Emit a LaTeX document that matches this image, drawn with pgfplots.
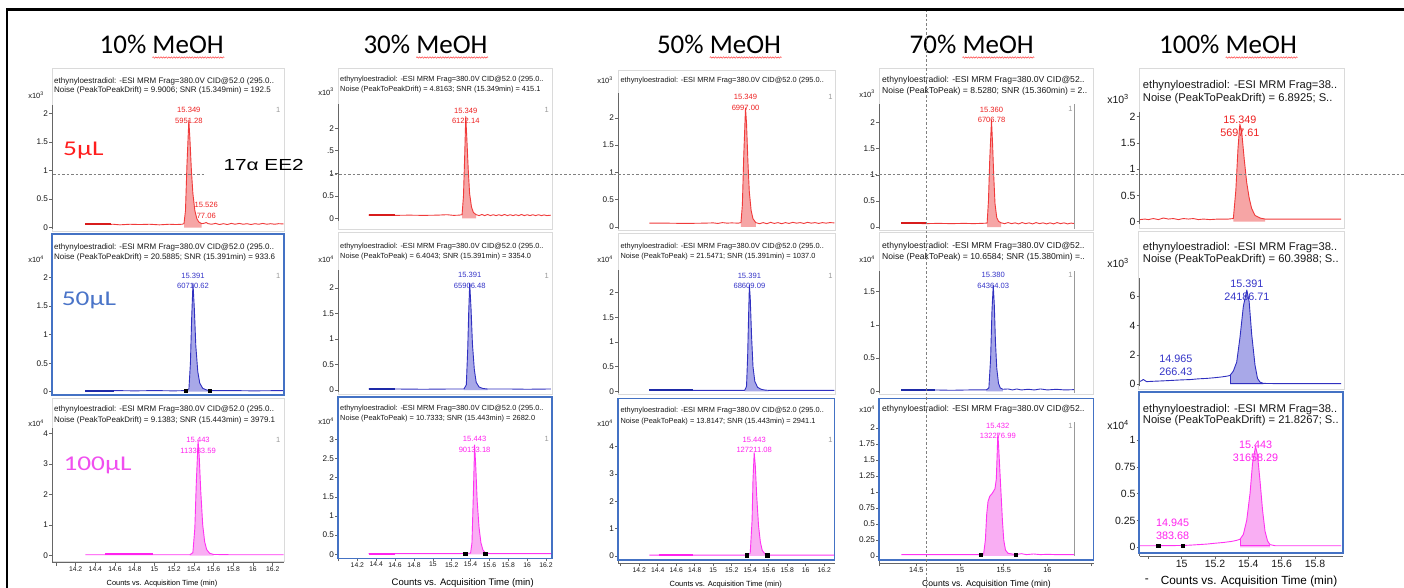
\documentclass[border=0pt]{standalone}
\usepackage{fontspec}
\usepackage{pgfplots}
\pgfplotsset{compat=1.18}
\usetikzlibrary{decorations.pathmorphing}
\setmainfont{Liberation Sans}
\newfontfamily\calib{Carlito}
\newcommand\fs[1]{\fontsize{#1}{#1}\selectfont}
\newcommand\fsl[2]{\fontsize{#1}{#2}\selectfont}
\newcommand\xten[1]{x10\textsuperscript{#1}}

\definecolor{tred}{HTML}{F03A3A}
\definecolor{fred}{HTML}{F6A5A5}
\definecolor{lred}{HTML}{EE2020}
\definecolor{dred}{HTML}{D81C1C}
\definecolor{tblue}{HTML}{3030C0}
\definecolor{fblue}{HTML}{A8A8E8}
\definecolor{lblue}{HTML}{3434C8}
\definecolor{dblue}{HTML}{1E2AA8}
\definecolor{tmag}{HTML}{FF33F2}
\definecolor{fmag}{HTML}{F9AEF3}
\definecolor{lmag}{HTML}{FF22EE}
\definecolor{selblue}{HTML}{4472C4}
\definecolor{frgray}{HTML}{DADADA}
\definecolor{vred}{HTML}{FF1E1E}
\definecolor{vblue}{HTML}{4A74C8}
\definecolor{vmag}{HTML}{F04FEF}

\pgfplotsset{
  chrom/.style={
    scale only axis, anchor=south west, clip=false,
    axis x line*=bottom, axis y line*=left,
    axis line style={draw=black!60, line width=0.6pt, -},
    every outer x axis line/.append style={-},
    every outer y axis line/.append style={-},
    tick style={draw=black!60, line width=0.6pt},
    major tick length=3pt, tick align=outside,
    /pgf/number format/assume math mode=true,
    ticklabel style={text=black!90, inner sep=0.8pt},
    yticklabel style={font=\fs{8.2}},
    xticklabel style={font=\fs{6.8}},
    scaled ticks=false,
  },
  toprow/.style={hide x axis},
  big/.style={yticklabel style={font=\fs{10.5}}, xticklabel style={font=\fs{10.5}}},
  trace/.style={line width=0.9pt, line join=round},
  band/.style={line width=1.9pt},
  integ/.style={only marks, mark=square*, mark size=1.7pt, black},
}
\tikzset{
  hd/.style={anchor=west, inner sep=0pt, text=black!90},
  pk/.style={inner sep=0pt, align=center, font=\fsl{7.6}{10.5}},
  pkb/.style={inner sep=0pt, align=center, font=\fsl{10.8}{13}},
  one/.style={inner sep=0pt, text=black!40, font=\fs{7.5}},
  exl/.style={anchor=east, inner sep=0pt, text=black!90, font=\fs{7.5}},
  ttl/.style={anchor=base, inner sep=0pt, font=\calib\fs{27}},
  wavy/.style={draw=red!75, line width=0.5pt, decorate,
    decoration={snake, amplitude=0.7pt, segment length=2.6pt}},
}

\begin{document}
\begin{tikzpicture}
\useasboundingbox (0pt,0pt) rectangle (1404pt,-588pt);
\fill[white] (0pt,0pt) rectangle (1404pt,-588pt);

% ---------- panel frames, titles, headers ----------
\begin{scope}[x=1pt,y=-1pt]
  \foreach \a/\b/\c/\d in {52/68/284/231, 52/398/284/561,
      338/68/552/229, 338/232/552/394,
      618/70/835/230, 618/233/835/394,
      879/68/1093.5/230, 879/232/1093.5/394,
      1139/68/1344/228, 1138/231/1344/389}
    \draw[frgray, line width=0.8pt] (\a,\b) rectangle (\c,\d);

  % column titles
  \node[ttl] at (161.7,54) {10\% MeOH};
  \node[ttl] at (425.5,54) {30\% MeOH};
  \node[ttl] at (719,54) {50\% MeOH};
  \node[ttl] at (971.7,54) {70\% MeOH};
  \node[ttl] at (1228,54) {100\% MeOH};
  \foreach \c/\w in {161.7/125.4, 425.5/125.4, 719/125.4, 971.7/125.4, 1228/139.2}
    \draw[wavy] ({\c+\w/2-72},57.5) -- ({\c+\w/2},57.5);

  % volume tags
  \node[anchor=base west, inner sep=0pt, text=vred] at (63,156)
    {\scalebox{1.3}[1]{\calib\fs{21}5µL}};
  \node[anchor=base west, inner sep=0pt, text=vblue] at (61.7,305)
    {\scalebox{1.3}[1]{\calib\fs{21}50µL}};
  \node[anchor=base west, inner sep=0pt, text=vmag] at (63.3,470)
    {\scalebox{1.3}[1]{\calib\fs{21}100µL}};
  \node[anchor=base west, inner sep=0pt] at (223.3,170.7)
    {\scalebox{1.3}[1]{\fs{16}17α EE2}};

  % headers, column 1
  \begin{scope}[every node/.style={hd, font=\fs{8}}]
    \node at (54,81.7) {ethynyloestradiol: -ESI MRM Frag=380.0V CID@52.0 (295.0..};
    \node at (54,90.7) {Noise (PeakToPeakDrift) = 9.9006; SNR (15.349min) = 192.5};
    \node at (54,247.3) {ethynyloestradiol: -ESI MRM Frag=380.0V CID@52.0 (295.0..};
    \node at (54,257.3) {Noise (PeakToPeakDrift) = 20.5885; SNR (15.391min) = 933.6};
    \node at (54,409.5) {ethynyloestradiol: -ESI MRM Frag=380.0V CID@52.0 (295.0..};
    \node at (54,420) {Noise (PeakToPeakDrift) = 9.1383; SNR (15.443min) = 3979.1};
  \end{scope}
  % headers, column 2
  \begin{scope}[every node/.style={hd, font=\fs{7.4}}]
    \node at (340,80) {ethynyloestradiol: -ESI MRM Frag=380.0V CID@52.0 (295.0..};
    \node at (340,90) {Noise (PeakToPeakDrift) = 4.8163; SNR (15.349min) = 415.1};
    \node at (340,246.7) {ethynyloestradiol: -ESI MRM Frag=380.0V CID@52.0 (295.0..};
    \node at (340,256.7) {Noise (PeakToPeak) = 6.4043; SNR (15.391min) = 3354.0};
    \node at (340,409) {ethynyloestradiol: -ESI MRM Frag=380.0V CID@52.0 (295.0..};
    \node at (340,419) {Noise (PeakToPeak) = 10.7333; SNR (15.443min) = 2682.0};
  \end{scope}
  % headers, column 3
  \begin{scope}[every node/.style={hd, font=\fs{7.4}}]
    \node at (620.3,80.7) {ethynyloestradiol: -ESI MRM Frag=380.0V CID@52.0 (295.0..};
    \node at (620.3,247) {ethynyloestradiol: -ESI MRM Frag=380.0V CID@52.0 (295.0..};
    \node at (620.3,257) {Noise (PeakToPeak) = 21.5471; SNR (15.391min) = 1037.0};
    \node at (620.3,411) {ethynyloestradiol: -ESI MRM Frag=380.0V CID@52.0 (295.0..};
    \node at (620.3,421.6) {Noise (PeakToPeak) = 13.8147; SNR (15.443min) = 2941.1};
  \end{scope}
  % headers, column 4
  \begin{scope}[every node/.style={hd, font=\fs{8.6}}]
    \node at (882,80.7) {ethynyloestradiol: -ESI MRM Frag=380.0V CID@52..};
    \node at (882,91) {Noise (PeakToPeak) = 8.5280; SNR (15.360min) = 2..};
    \node at (882,246) {ethynyloestradiol: -ESI MRM Frag=380.0V CID@52..};
    \node at (882,257) {Noise (PeakToPeak) = 10.6584; SNR (15.380min) =..};
    \node at (882,409.5) {ethynyloestradiol: -ESI MRM Frag=380.0V CID@52..};
  \end{scope}
  % headers, column 5
  \begin{scope}[every node/.style={hd, font=\fs{11.2}}]
    \node at (1142.7,86) {ethynyloestradiol: -ESI MRM Frag=38..};
    \node at (1142.7,98.3) {Noise (PeakToPeakDrift) = 6.8925; S..};
    \node at (1142.7,247.7) {ethynyloestradiol: -ESI MRM Frag=38..};
    \node at (1142.7,259.3) {Noise (PeakToPeakDrift) = 60.3988; S..};
    \node at (1142.7,409.3) {ethynyloestradiol: -ESI MRM Frag=38..};
    \node at (1142.7,421) {Noise (PeakToPeakDrift) = 21.8267; S..};
  \end{scope}

  % scale multipliers
  \node[exl] at (44,95) {\xten{3}};
  \node[exl] at (44,259.3) {\xten{4}};
  \node[exl] at (44,423.3) {\xten{4}};
  \node[exl] at (334,91.7) {\xten{3}};
  \node[exl] at (334,259) {\xten{4}};
  \node[exl] at (334,421.7) {\xten{4}};
  \node[exl] at (613,80.5) {\xten{3}};
  \node[exl] at (613,259) {\xten{4}};
  \node[exl] at (613,423) {\xten{4}};
  \node[exl] at (875,93.7) {\xten{3}};
  \node[exl] at (875,259) {\xten{4}};
  \node[exl] at (875,409.5) {\xten{4}};
  \node[exl, font=\fs{10.5}] at (1129,99) {\xten{3}};
  \node[exl, font=\fs{10.5}] at (1129,262.7) {\xten{3}};
  \node[exl, font=\fs{10.5}] at (1129,425) {\xten{4}};

  % trace numbers
  \foreach \x/\y in {278.3/110, 278.3/275.7, 278.3/440,
      546.7/110, 546.7/275.7, 546.7/439.3,
      830.4/97.2, 830.4/275.9, 830.4/439.8,
      1070.4/109.2, 1070.4/275.2, 1070.4/426}
    \node[one] at (\x,\y) {1};

  % x-axis titles
  \node[inner sep=0pt, font=\fs{7.4}] at (162,583.3) {Counts vs. Acquisition Time (min)};
  \node[inner sep=0pt, font=\fs{9.5}] at (462.7,582.7) {Counts vs. Acquisition Time (min)};
  \node[inner sep=0pt, font=\fs{7.5}] at (725.7,584.5) {Counts vs. Acquisition Time (min)};
  \node[inner sep=0pt, font=\fs{8.6}] at (986.5,584.5) {Counts vs. Acquisition Time (min)};
  \node[inner sep=0pt, font=\fs{11.8}] at (1249,581) {Counts vs. Acquisition Time (min)};
  \node[inner sep=0pt, font=\fs{11.8}] at (1146.7,581) {-};
\end{scope}

% ================= 10% MeOH =================
\begin{axis}[chrom, toprow, at={(52pt,-229pt)}, width=231.5pt, height=124pt,
  xmin=13.96, xmax=16.31, ymin=-0.023, ymax=2.145, ytick={0,0.5,1,1.5,2}]
  \addplot[fill=fred, draw=none] coordinates {(15.30,0.07) (15.315,0.3) (15.33,1.1) (15.349,1.88) (15.36,1.55) (15.375,1.0) (15.39,0.6) (15.41,0.3) (15.43,0.16) (15.45,0.1) (15.48,0.07)} \closedcycle;
  \addplot[trace, tred] coordinates {(14.30,0.06) (14.40,0.06) (14.50,0.055) (14.58,0.06) (14.65,0.05) (14.75,0.06) (14.85,0.055) (14.95,0.06) (15.05,0.05) (15.15,0.06) (15.22,0.055) (15.28,0.06) (15.30,0.07) (15.315,0.3) (15.33,1.1) (15.349,1.88) (15.36,1.55) (15.375,1.0) (15.39,0.6) (15.41,0.3) (15.43,0.16) (15.45,0.1) (15.48,0.07) (15.51,0.08) (15.526,0.09) (15.545,0.07) (15.58,0.06) (15.62,0.075) (15.66,0.055) (15.70,0.07) (15.74,0.055) (15.78,0.075) (15.82,0.06) (15.86,0.075) (15.90,0.06) (15.94,0.07) (15.98,0.055) (16.02,0.07) (16.06,0.06) (16.10,0.075) (16.14,0.06) (16.18,0.07) (16.22,0.06) (16.26,0.07) (16.31,0.065)};
  \addplot[band, dred] coordinates {(14.30,0.06) (14.56,0.06)};
  \node[pk, text=lred] at (axis cs:15.349,1.96) {15.349\\5951.28};
  \node[pk, text=lred] at (axis cs:15.526,0.30) {15.526\\77.06};
\end{axis}

\begin{axis}[chrom, toprow, at={(52pt,-394pt)}, width=231.5pt, height=126pt,
  xmin=13.96, xmax=16.31, ymin=-0.04, ymax=2.17, ytick={0,0.5,1,1.5,2}]
  \addplot[fill=fblue, draw=none] coordinates {(15.32,0.02) (15.35,0.05) (15.365,0.5) (15.378,1.3) (15.391,1.9) (15.405,1.45) (15.42,0.8) (15.44,0.35) (15.46,0.15) (15.49,0.06) (15.53,0.03) (15.56,0.02)} \closedcycle;
  \addplot[trace, tblue] coordinates {(14.30,0.02) (14.60,0.02) (14.80,0.015) (15.00,0.02) (15.20,0.015) (15.32,0.02) (15.35,0.05) (15.365,0.5) (15.378,1.3) (15.391,1.9) (15.405,1.45) (15.42,0.8) (15.44,0.35) (15.46,0.15) (15.49,0.06) (15.53,0.03) (15.56,0.02) (15.80,0.02) (16.00,0.015) (16.31,0.02)};
  \addplot[band, dblue] coordinates {(14.30,0.02) (14.59,0.02)};
  \addplot[integ] coordinates {(15.32,0.02) (15.56,0.02)};
  \node[pk, text=lblue] at (axis cs:15.391,1.94) {15.391\\60710.62};
\end{axis}

\begin{axis}[chrom, at={(52pt,-562.7pt)}, width=231.5pt, height=134.7pt,
  xmin=13.96, xmax=16.31, ymin=-0.229, ymax=4.17, ytick={0,1,2,3,4},
  xtick={14,14.2,14.4,14.6,14.8,15,15.2,15.4,15.6,15.8,16,16.2},
  xticklabels={,14.2,14.4,14.6,14.8,15,15.2,15.4,15.6,15.8,16,16.2}]
  \addplot[fill=fmag, draw=none] coordinates {(15.36,0.03) (15.39,0.1) (15.41,0.9) (15.425,2.4) (15.443,3.75) (15.455,3.2) (15.47,2.1) (15.49,1.0) (15.51,0.45) (15.53,0.2) (15.56,0.08) (15.60,0.04)} \closedcycle;
  \addplot[trace, tmag] coordinates {(14.30,0.03) (14.80,0.03) (15.00,0.03) (15.20,0.03) (15.36,0.03) (15.39,0.1) (15.41,0.9) (15.425,2.4) (15.443,3.75) (15.455,3.2) (15.47,2.1) (15.49,1.0) (15.51,0.45) (15.53,0.2) (15.56,0.08) (15.60,0.04) (15.80,0.03) (16.31,0.03)};
  \addplot[band, lmag] coordinates {(14.50,0.05) (14.99,0.05)};
  \node[pk, text=lmag] at (axis cs:15.443,3.60) {15.443\\113383.59};
\end{axis}

% ================= 30% MeOH =================
\begin{axis}[chrom, toprow, at={(338pt,-221pt)}, width=213.5pt, height=117pt,
  xmin=13.995, xmax=16.258, ymin=-0.06, ymax=2.54, ytick={0,0.5,1,1.5,2},
  yticklabels={0,0.5,1,.5,2}]
  \addplot[fill=fred, draw=none] coordinates {(15.31,0.08) (15.325,0.5) (15.338,1.4) (15.349,2.26) (15.36,1.8) (15.375,1.1) (15.39,0.55) (15.41,0.25) (15.43,0.13) (15.46,0.08)} \closedcycle;
  \addplot[trace, tred] coordinates {(14.32,0.07) (14.45,0.07) (14.60,0.065) (14.75,0.07) (14.90,0.065) (15.05,0.07) (15.15,0.08) (15.22,0.065) (15.28,0.07) (15.31,0.08) (15.325,0.5) (15.338,1.4) (15.349,2.26) (15.36,1.8) (15.375,1.1) (15.39,0.55) (15.41,0.25) (15.43,0.13) (15.46,0.08) (15.49,0.06) (15.52,0.085) (15.55,0.06) (15.58,0.085) (15.61,0.06) (15.64,0.08) (15.67,0.06) (15.70,0.08) (15.73,0.06) (15.76,0.085) (15.79,0.06) (15.82,0.08) (15.85,0.06) (15.88,0.08) (15.91,0.06) (15.94,0.085) (15.97,0.06) (16.00,0.08) (16.03,0.06) (16.06,0.08) (16.09,0.06) (16.12,0.08) (16.15,0.06) (16.18,0.075) (16.21,0.06) (16.25,0.07)};
  \addplot[band, dred] coordinates {(14.32,0.07) (14.60,0.07)};
  \node[pk, text=lred] at (axis cs:15.349,2.28) {15.349\\6122.14};
\end{axis}

\begin{axis}[chrom, toprow, at={(338pt,-392pt)}, width=213.5pt, height=122pt,
  xmin=13.995, xmax=16.258, ymin=-0.039, ymax=2.353, ytick={0,0.5,1,1.5,2}]
  \addplot[fill=fblue, draw=none] coordinates {(15.33,0.02) (15.355,0.1) (15.37,0.8) (15.38,1.5) (15.391,2.09) (15.405,1.6) (15.42,0.9) (15.44,0.4) (15.46,0.15) (15.49,0.06) (15.53,0.03) (15.58,0.02)} \closedcycle;
  \addplot[trace, tblue] coordinates {(14.32,0.02) (14.60,0.02) (14.90,0.015) (15.20,0.02) (15.33,0.02) (15.355,0.1) (15.37,0.8) (15.38,1.5) (15.391,2.09) (15.405,1.6) (15.42,0.9) (15.44,0.4) (15.46,0.15) (15.49,0.06) (15.53,0.03) (15.58,0.02) (15.80,0.02) (16.00,0.015) (16.25,0.02)};
  \addplot[band, dblue] coordinates {(14.32,0.02) (14.60,0.02)};
  \node[pk, text=lblue] at (axis cs:15.391,2.15) {15.391\\65906.48};
\end{axis}

\begin{axis}[chrom, at={(338pt,-558.3pt)}, width=213.5pt, height=130.3pt,
  xmin=13.995, xmax=16.258, ymin=-0.104, ymax=3.295, ytick={0,0.5,1,1.5,2,2.5,3},
  xtick={14,14.2,14.4,14.6,14.8,15,15.2,15.4,15.6,15.8,16,16.2},
  xticklabels={,14.2,14.4,14.6,14.8,15,15.2,15.4,15.6,15.8,16,16.2}]
  \addplot[fill=fmag, draw=none] coordinates {(15.344,0.02) (15.40,0.03) (15.415,0.3) (15.43,1.6) (15.443,2.85) (15.455,2.3) (15.47,1.4) (15.49,0.7) (15.51,0.3) (15.53,0.12) (15.555,0.04)} \closedcycle;
  \addplot[trace, tmag] coordinates {(14.32,0.02) (14.60,0.02) (15.00,0.02) (15.30,0.02) (15.40,0.03) (15.415,0.3) (15.43,1.6) (15.443,2.85) (15.455,2.3) (15.47,1.4) (15.49,0.7) (15.51,0.3) (15.53,0.12) (15.555,0.04) (15.60,0.02) (16.25,0.02)};
  \addplot[band, lmag] coordinates {(14.32,0.02) (14.60,0.02)};
  \addplot[integ] coordinates {(15.344,0.02) (15.555,0.02)};
  \node[pk, text=lmag] at (axis cs:15.443,2.87) {15.443\\90133.18};
\end{axis}

% ================= 50% MeOH =================
\begin{axis}[chrom, toprow, at={(618pt,-229pt)}, width=216.5pt, height=136.3pt,
  xmin=13.971, xmax=16.311, ymin=-0.037, ymax=2.46, ytick={0,0.5,1,1.5,2}]
  \addplot[fill=fred, draw=none] coordinates {(15.30,0.08) (15.315,0.4) (15.33,1.3) (15.349,2.18) (15.36,1.9) (15.375,1.2) (15.39,0.65) (15.41,0.3) (15.43,0.15) (15.46,0.08)} \closedcycle;
  \addplot[trace, tred] coordinates {(14.31,0.07) (14.50,0.07) (14.70,0.065) (14.90,0.07) (15.00,0.075) (15.05,0.065) (15.10,0.08) (15.15,0.07) (15.20,0.075) (15.27,0.07) (15.30,0.08) (15.315,0.4) (15.33,1.3) (15.349,2.18) (15.36,1.9) (15.375,1.2) (15.39,0.65) (15.41,0.3) (15.43,0.15) (15.46,0.08) (15.50,0.06) (15.54,0.08) (15.58,0.06) (15.62,0.085) (15.66,0.065) (15.70,0.08) (15.74,0.06) (15.78,0.08) (15.82,0.065) (15.86,0.085) (15.90,0.07) (15.94,0.08) (15.98,0.065) (16.02,0.085) (16.06,0.07) (16.10,0.08) (16.14,0.065) (16.18,0.08) (16.22,0.07) (16.26,0.08) (16.31,0.075)};
  \node[pk, text=lred] at (axis cs:15.349,2.28) {15.349\\6997.00};
\end{axis}

\begin{axis}[chrom, toprow, at={(618pt,-393pt)}, width=216.5pt, height=123pt,
  xmin=13.971, xmax=16.311, ymin=-0.034, ymax=2.46, ytick={0,0.5,1,1.5,2}]
  \addplot[fill=fblue, draw=none] coordinates {(15.34,0.02) (15.36,0.1) (15.372,0.7) (15.382,1.5) (15.391,2.15) (15.40,1.9) (15.415,1.1) (15.43,0.5) (15.45,0.2) (15.48,0.08) (15.52,0.04) (15.56,0.025) (15.60,0.02)} \closedcycle;
  \addplot[trace, tblue] coordinates {(14.31,0.02) (14.79,0.02) (15.00,0.02) (15.20,0.02) (15.34,0.02) (15.36,0.1) (15.372,0.7) (15.382,1.5) (15.391,2.15) (15.40,1.9) (15.415,1.1) (15.43,0.5) (15.45,0.2) (15.48,0.08) (15.52,0.04) (15.56,0.025) (15.60,0.02) (16.31,0.02)};
  \addplot[band, dblue] coordinates {(14.31,0.02) (14.785,0.02)};
  \node[pk, text=lblue] at (axis cs:15.391,2.24) {15.391\\68609.09};
\end{axis}

\begin{axis}[chrom, at={(618pt,-563.4pt)}, width=216.5pt, height=138.4pt,
  xmin=13.971, xmax=16.311, ymin=-0.275, ymax=4.795, ytick={0,1,2,3,4},
  xtick={14,14.2,14.4,14.6,14.8,15,15.2,15.4,15.6,15.8,16,16.2},
  xticklabels={,14.2,14.4,14.6,14.8,15,15.2,15.4,15.6,15.8,16,16.2}]
  \addplot[fill=fmag, draw=none] coordinates {(15.362,0.03) (15.40,0.1) (15.42,1.3) (15.43,2.8) (15.443,3.78) (15.455,3.3) (15.47,2.2) (15.49,1.1) (15.51,0.5) (15.53,0.2) (15.56,0.07) (15.585,0.04)} \closedcycle;
  \addplot[trace, tmag] coordinates {(14.31,0.03) (14.79,0.03) (15.00,0.03) (15.362,0.03) (15.40,0.1) (15.42,1.3) (15.43,2.8) (15.443,3.78) (15.455,3.3) (15.47,2.2) (15.49,1.1) (15.51,0.5) (15.53,0.2) (15.56,0.07) (15.585,0.04) (15.62,0.03) (16.31,0.03)};
  \addplot[band, lmag] coordinates {(14.41,0.03) (14.785,0.03)};
  \addplot[integ] coordinates {(15.362,0.03) (15.585,0.03)};
  \node[pk, text=lmag] at (axis cs:15.443,4.06) {15.443\\127211.08};
\end{axis}

% ================= 70% MeOH =================
\begin{axis}[chrom, toprow, at={(879pt,-229pt)}, width=214.5pt, height=125pt,
  xmin=14.073, xmax=16.527, ymin=-0.038, ymax=2.359, ytick={0,0.5,1,1.5,2}]
  \addplot[fill=fred, draw=none] coordinates {(15.31,0.075) (15.325,0.5) (15.34,1.3) (15.36,2.05) (15.372,1.6) (15.385,1.0) (15.40,0.45) (15.42,0.18) (15.44,0.11) (15.47,0.08)} \closedcycle;
  \addplot[trace, tred] coordinates {(14.33,0.07) (14.45,0.07) (14.61,0.065) (14.75,0.07) (14.90,0.065) (15.05,0.07) (15.15,0.065) (15.25,0.07) (15.31,0.075) (15.325,0.5) (15.34,1.3) (15.36,2.05) (15.372,1.6) (15.385,1.0) (15.40,0.45) (15.42,0.18) (15.44,0.11) (15.47,0.08) (15.51,0.065) (15.55,0.085) (15.59,0.065) (15.63,0.08) (15.67,0.06) (15.71,0.085) (15.75,0.065) (15.79,0.08) (15.83,0.06) (15.87,0.085) (15.91,0.065) (15.95,0.08) (15.99,0.06) (16.03,0.08) (16.07,0.06) (16.11,0.085) (16.15,0.065) (16.19,0.08) (16.23,0.06) (16.27,0.075) (16.313,0.065)};
  \addplot[band, dred] coordinates {(14.33,0.07) (14.61,0.07)};
  \addplot[black!40, line width=0.8pt] coordinates {(16.313,-0.038) (16.313,2.359)};
  \node[pk, text=lred] at (axis cs:15.36,2.15) {15.360\\6706.78};
\end{axis}

\begin{axis}[chrom, toprow, at={(879pt,-393pt)}, width=214.5pt, height=122.3pt,
  xmin=14.073, xmax=16.527, ymin=-0.026, ymax=1.816, ytick={0,0.5,1,1.5}]
  \addplot[fill=fblue, draw=none] coordinates {(15.30,0.02) (15.33,0.05) (15.35,0.5) (15.365,1.2) (15.38,1.6) (15.392,1.3) (15.405,0.75) (15.42,0.35) (15.44,0.12) (15.46,0.05) (15.49,0.03)} \closedcycle;
  \addplot[trace, tblue] coordinates {(14.33,0.02) (14.71,0.02) (14.90,0.015) (15.10,0.02) (15.30,0.02) (15.33,0.05) (15.35,0.5) (15.365,1.2) (15.38,1.6) (15.392,1.3) (15.405,0.75) (15.42,0.35) (15.44,0.12) (15.46,0.05) (15.49,0.03) (15.55,0.035) (15.60,0.02) (15.65,0.035) (15.70,0.02) (15.78,0.03) (15.85,0.02) (15.92,0.035) (16.00,0.02) (16.10,0.03) (16.20,0.02) (16.313,0.025)};
  \addplot[band, dblue] coordinates {(14.33,0.02) (14.71,0.02)};
  \addplot[black!40, line width=0.8pt] coordinates {(16.313,-0.026) (16.313,1.816)};
  \node[pk, text=lblue] at (axis cs:15.38,1.67) {15.380\\64364.03};
\end{axis}

\begin{axis}[chrom, at={(879pt,-563.4pt)}, width=214.5pt, height=141.8pt,
  xmin=14.073, xmax=16.527, ymin=-0.117, ymax=2.097,
  ytick={0,0.25,0.5,0.75,1,1.25,1.5,1.75,2},
  xtick={14.5,15,15.5,16}, xticklabels={14.5,15,15.5,16},
  extra x ticks={14.08,16.5}, extra x tick labels={},
  xticklabel style={font=\fs{7.4}}]
  \addplot[fill=fmag, draw=none] coordinates {(15.238,0.02) (15.27,0.03) (15.29,0.25) (15.305,0.65) (15.32,0.85) (15.34,0.93) (15.37,0.98) (15.40,1.05) (15.415,1.2) (15.425,1.6) (15.432,1.91) (15.44,1.75) (15.455,1.35) (15.47,0.95) (15.485,0.55) (15.50,0.25) (15.52,0.09) (15.55,0.04) (15.64,0.02)} \closedcycle;
  \addplot[trace, tmag] coordinates {(14.33,0.02) (14.80,0.02) (15.10,0.02) (15.238,0.02) (15.27,0.03) (15.29,0.25) (15.305,0.65) (15.32,0.85) (15.34,0.93) (15.37,0.98) (15.40,1.05) (15.415,1.2) (15.425,1.6) (15.432,1.91) (15.44,1.75) (15.455,1.35) (15.47,0.95) (15.485,0.55) (15.50,0.25) (15.52,0.09) (15.55,0.04) (15.64,0.02) (15.70,0.035) (15.76,0.02) (15.84,0.03) (15.92,0.02) (16.00,0.025) (16.10,0.02) (16.20,0.02) (16.313,0.02)};
  \addplot[integ] coordinates {(15.238,0.02) (15.64,0.02)};
  \addplot[black!40, line width=0.8pt] coordinates {(16.313,0) (16.313,2.097)};
  \node[pk, text=lmag] at (axis cs:15.432,1.95) {15.432\\132276.99};
\end{axis}

% ================= 100% MeOH =================
\begin{axis}[chrom, big, toprow, at={(1139.5pt,-224pt)}, width=203.5pt, height=112pt,
  xmin=14.747, xmax=15.968, ymin=-0.044, ymax=2.09, ytick={0,0.5,1,1.5,2}]
  \addplot[fill=fred, draw=none] coordinates {(15.31,0.06) (15.325,0.6) (15.338,1.4) (15.349,1.86) (15.36,1.72) (15.375,1.2) (15.39,0.75) (15.405,0.45) (15.42,0.25) (15.44,0.12) (15.47,0.07) (15.50,0.05)} \closedcycle;
  \addplot[trace, tred] coordinates {(14.75,0.04) (14.78,0.05) (14.80,0.04) (14.83,0.06) (14.86,0.04) (14.89,0.07) (14.92,0.05) (14.95,0.06) (14.98,0.04) (15.01,0.06) (15.04,0.05) (15.07,0.06) (15.10,0.04) (15.13,0.05) (15.17,0.04) (15.22,0.05) (15.28,0.05) (15.31,0.06) (15.325,0.6) (15.338,1.4) (15.349,1.86) (15.36,1.72) (15.375,1.2) (15.39,0.75) (15.405,0.45) (15.42,0.25) (15.44,0.12) (15.47,0.07) (15.50,0.05) (15.60,0.05) (15.70,0.05) (15.80,0.05) (15.956,0.05)};
  \node[pkb, text=lred] at (axis cs:15.349,1.81) {15.349\\5697.61};
\end{axis}

\begin{axis}[chrom, big, toprow, at={(1139.5pt,-386pt)}, width=203.5pt, height=108pt,
  xmin=14.747, xmax=15.968, ymin=-0.116, ymax=7.22, ytick={0,2,4,6}]
  \addplot[fill=fblue, draw=none] coordinates {(15.29,0.6) (15.31,0.9) (15.33,1.5) (15.35,3.2) (15.37,5.3) (15.391,6.4) (15.405,5.6) (15.42,3.4) (15.44,1.3) (15.455,0.4) (15.47,0.15) (15.49,0.06)} \closedcycle;
  \addplot[trace, tblue] coordinates {(14.75,0.2) (14.76,0.25) (14.77,0.33) (14.78,0.25) (14.79,0.18) (14.82,0.2) (14.86,0.22) (14.90,0.24) (14.95,0.27) (15.00,0.3) (15.05,0.32) (15.10,0.37) (15.15,0.4) (15.20,0.45) (15.24,0.5) (15.27,0.55) (15.29,0.6) (15.31,0.9) (15.33,1.5) (15.35,3.2) (15.37,5.3) (15.391,6.4) (15.405,5.6) (15.42,3.4) (15.44,1.3) (15.455,0.4) (15.47,0.15) (15.49,0.06) (15.55,0.05) (15.65,0.05) (15.80,0.05) (15.956,0.05)};
  \addplot[tblue, line width=0.6pt] coordinates {(15.29,0.6) (15.29,0.05) (15.49,0.05)};
  \node[pkb, text=lblue] at (axis cs:15.391,6.37) {15.391\\24186.71};
  \node[pkb, text=lblue] at (axis cs:14.965,1.29) {14.965\\266.43};
\end{axis}

\begin{axis}[chrom, big, at={(1139.5pt,-556pt)}, width=203.5pt, height=120pt,
  xmin=14.747, xmax=15.968, ymin=-0.081, ymax=1.037, ytick={0,0.25,0.5,0.75,1},
  xtick={14.8,15,15.2,15.4,15.6,15.8}, xticklabels={,15,15.2,15.4,15.6,15.8}]
  \addplot[fill=fmag, draw=none] coordinates {(15.35,0.075) (15.37,0.12) (15.39,0.25) (15.41,0.5) (15.425,0.78) (15.443,0.94) (15.455,0.86) (15.47,0.62) (15.485,0.35) (15.50,0.15) (15.515,0.06) (15.53,0.025)} \closedcycle;
  \addplot[trace, tmag] coordinates {(14.75,0.015) (14.86,0.015) (15.006,0.017) (15.05,0.02) (15.10,0.025) (15.15,0.03) (15.20,0.038) (15.25,0.045) (15.30,0.055) (15.33,0.065) (15.35,0.075) (15.37,0.12) (15.39,0.25) (15.41,0.5) (15.425,0.78) (15.443,0.94) (15.455,0.86) (15.47,0.62) (15.485,0.35) (15.50,0.15) (15.515,0.06) (15.53,0.025) (15.56,0.015) (15.70,0.015) (15.956,0.015)};
  \addplot[tmag, line width=0.6pt] coordinates {(15.35,0.075) (15.35,0.015) (15.53,0.015)};
  \addplot[integ] coordinates {(14.86,0.015) (15.006,0.017)};
  \node[pkb, text=lmag] at (axis cs:15.443,0.895) {15.443\\31658.29};
  \node[pkb, text=lmag] at (axis cs:14.945,0.164) {14.945\\383.68};
\end{axis}

% ---------- selection frames, guide lines, outer frame ----------
\begin{scope}[x=1pt,y=-1pt]
  \draw[selblue, line width=1.4pt] (52,234) rectangle (284,395);
  \draw[selblue, line width=1.4pt] (338,397) rectangle (552,558.5);
  \draw[selblue, line width=1.4pt] (618,398.5) rectangle (834.5,560);
  \draw[selblue, line width=1.4pt] (879,398.5) rectangle (1093.4,560);
  \draw[selblue, line width=1.8pt] (1139.3,392.3) rectangle (1343.3,552.7);

  \draw[black!50, line width=0.6pt, dash pattern=on 2.5pt off 2pt] (53,174.5) -- (205,174.5);
  \draw[black!50, line width=0.6pt, dash pattern=on 2.5pt off 2pt] (330,174.5) -- (1404,174.5);
  \draw[black!50, line width=0.6pt, dash pattern=on 2.5pt off 2pt] (926,10) -- (926,588);

  \draw[black, line width=2.2pt] (1404,9.5) -- (6.7,9.5) -- (6.7,588);
\end{scope}
\end{tikzpicture}
\end{document}
